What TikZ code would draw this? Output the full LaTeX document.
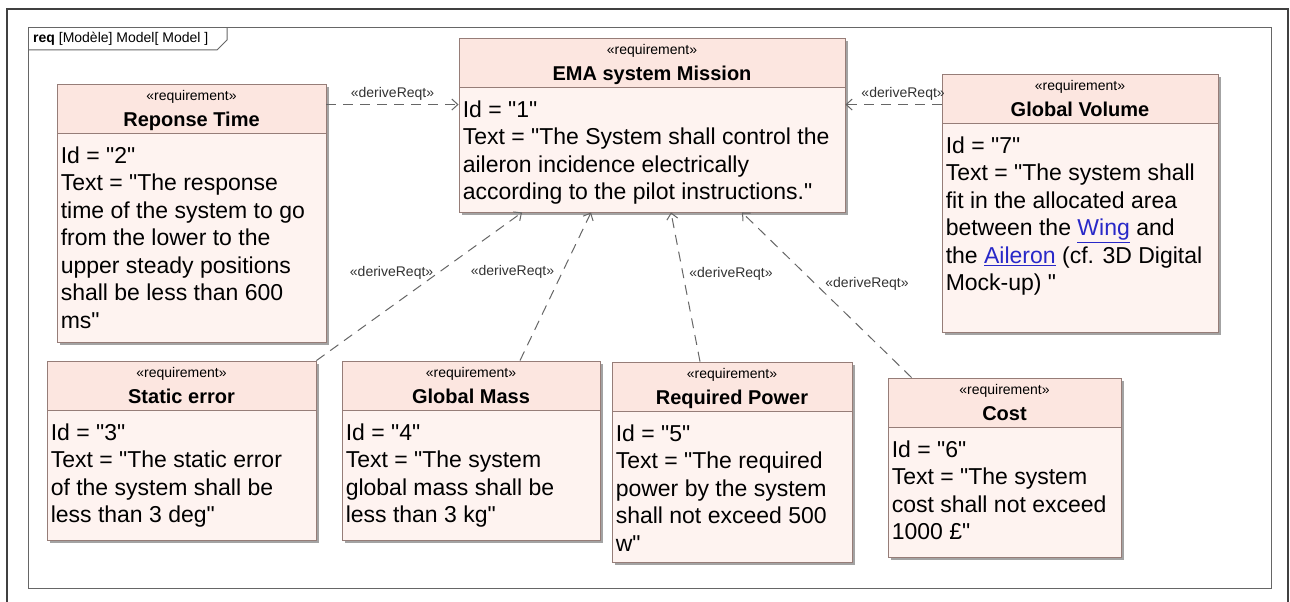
\documentclass[tikz,border=0pt]{standalone}
\usepackage{fontspec}
\setmainfont{Liberation Sans}[Ligatures=TeXOff]
\usetikzlibrary{arrows.meta,shadows}

\definecolor{reqhead}{RGB}{252,230,224}
\definecolor{reqbody}{RGB}{254,243,240}
\definecolor{reqline}{RGB}{150,125,120}
\definecolor{linkblue}{RGB}{40,40,200}

\begin{document}
\begin{tikzpicture}[x=1pt, y=-1pt,
    req/.style={draw=reqline, fill=reqbody, line width=0.9pt, inner sep=0pt,
      drop shadow={shadow xshift=3pt, shadow yshift=-3pt, fill=black!45, opacity=0.8},
      path picture={
        \fill[reqhead] (path picture bounding box.north west) rectangle ([yshift=-49pt]path picture bounding box.north east);
        \draw[reqline, line width=0.9pt] ([yshift=-49pt]path picture bounding box.north west) -- ([yshift=-49pt]path picture bounding box.north east);}},
    stereo/.style={font=\fontsize{14}{16}\selectfont, inner sep=0pt},
    rtitle/.style={font=\bfseries\fontsize{20}{24}\selectfont, inner sep=0pt, anchor=base},
    rtext/.style={font=\fontsize{23}{27.5}\selectfont, align=left, inner sep=0pt, anchor=north west},
    derive/.style={draw=black!60, line width=1pt, dash pattern=on 10pt off 7pt,
      -{Straight Barb[length=6pt,width=11pt]}},
    lbl/.style={font=\fontsize{14}{16}\selectfont, inner sep=0pt, text=black!80}]
  \useasboundingbox (0,0) rectangle (1290,602);
  \fill[white] (0,0) rectangle (1290,602);

  % frame
  \draw[black!75, line width=1.5pt] (7,602) -- (7,9) -- (1288,9) -- (1288,602);
  \draw[black!60, line width=1pt] (28,28) rectangle (1271,588);
  \draw[black!60, line width=1pt] (28,50) -- (217,50) -- (227,40) -- (227,28);
  \node[font=\fontsize{14}{16}\selectfont, anchor=west, inner sep=0pt] (tab) at (33,39)
    {\textbf{req} [Modèle] Model[ Model ]};

  % requirements
  \node[req, minimum width=386pt, minimum height=174pt] (ema) at (652,125) {};
  \node[stereo] (ema-st) at ([yshift=-13pt]ema.north) {«requirement»};
  \node[rtitle] (ema-t) at ([yshift=-43pt]ema.north) {EMA system Mission};
  \node[rtext] (ema-b) at ([xshift=4pt,yshift=-63pt]ema.north west)
    {Id = "1"\\Text = "The System shall control the\\aileron incidence electrically\\according to the pilot instructions."};

  \node[req, minimum width=269pt, minimum height=258pt] (rt) at (191.5,213) {};
  \node[stereo] (rt-st) at ([yshift=-13pt]rt.north) {«requirement»};
  \node[rtitle] (rt-t) at ([yshift=-43pt]rt.north) {Reponse Time};
  \node[rtext] (rt-b) at ([xshift=4pt,yshift=-63pt]rt.north west)
    {Id = "2"\\Text = "The response\\time of the system to go\\from the lower to the\\upper steady positions\\shall be less than 600\\ms"};

  \node[req, minimum width=276pt, minimum height=258pt] (gv) at (1080,203) {};
  \node[stereo] (gv-st) at ([yshift=-13pt]gv.north) {«requirement»};
  \node[rtitle] (gv-t) at ([yshift=-43pt]gv.north) {Global Volume};
  \node[rtext] (gv-b) at ([xshift=4pt,yshift=-63pt]gv.north west)
    {Id = "7"\\Text = "The system shall\\fit in the allocated area\\between the \textcolor{linkblue}{\underline{Wing}} and\\the \textcolor{linkblue}{\underline{Aileron}} (cf. 3D Digital\\Mock-up) "};

  \node[req, minimum width=269pt, minimum height=179pt] (se) at (181.5,450.5) {};
  \node[stereo] (se-st) at ([yshift=-13pt]se.north) {«requirement»};
  \node[rtitle] (se-t) at ([yshift=-43pt]se.north) {Static error};
  \node[rtext] (se-b) at ([xshift=4pt,yshift=-63pt]se.north west)
    {Id = "3"\\Text = "The static error\\of the system shall be\\less than 3 deg"};

  \node[req, minimum width=258pt, minimum height=179pt] (gm) at (471,450.5) {};
  \node[stereo] (gm-st) at ([yshift=-13pt]gm.north) {«requirement»};
  \node[rtitle] (gm-t) at ([yshift=-43pt]gm.north) {Global Mass};
  \node[rtext] (gm-b) at ([xshift=4pt,yshift=-63pt]gm.north west)
    {Id = "4"\\Text = "The system\\global mass shall be\\less than 3 kg"};

  \node[req, minimum width=240pt, minimum height=200pt] (rp) at (732,462) {};
  \node[stereo] (rp-st) at ([yshift=-13pt]rp.north) {«requirement»};
  \node[rtitle] (rp-t) at ([yshift=-43pt]rp.north) {Required Power};
  \node[rtext] (rp-b) at ([xshift=4pt,yshift=-63pt]rp.north west)
    {Id = "5"\\Text = "The required\\power by the system\\shall not exceed 500\\w"};

  \node[req, minimum width=233pt, minimum height=179pt] (co) at (1004.5,467.5) {};
  \node[stereo] (co-st) at ([yshift=-13pt]co.north) {«requirement»};
  \node[rtitle] (co-t) at ([yshift=-43pt]co.north) {Cost};
  \node[rtext] (co-b) at ([xshift=4pt,yshift=-63pt]co.north west)
    {Id = "6"\\Text = "The system\\cost shall not exceed\\1000 £"};

  % deriveReqt
  \draw[derive] ([yshift=-21pt]rt.north east) -- node[lbl, above=4pt] (d2) {«deriveReqt»} ([yshift=-67pt]ema.north west);
  \draw[derive] ([yshift=-31pt]gv.north west) -- node[lbl, pos=0.4, above=4pt] (d7) {«deriveReqt»} ([yshift=-67pt]ema.north east);
  \draw[derive] (se.north east) -- node[lbl, pos=0.59, left=4pt] (d3) {«deriveReqt»} ([xshift=-130pt]ema.south);
  \draw[derive] ([xshift=49pt]gm.north) -- node[lbl, pos=0.6, left=8pt] (d4) {«deriveReqt»} ([xshift=-61pt]ema.south);
  \draw[derive] ([xshift=-32pt]rp.north) -- node[lbl, pos=0.59, right=6pt] (d5) {«deriveReqt»} ([xshift=19pt]ema.south);
  \draw[derive] ([xshift=24pt]co.north west) -- node[lbl, pos=0.57, right=10pt] (d6) {«deriveReqt»} ([xshift=90pt]ema.south);
\end{tikzpicture}
\end{document}
